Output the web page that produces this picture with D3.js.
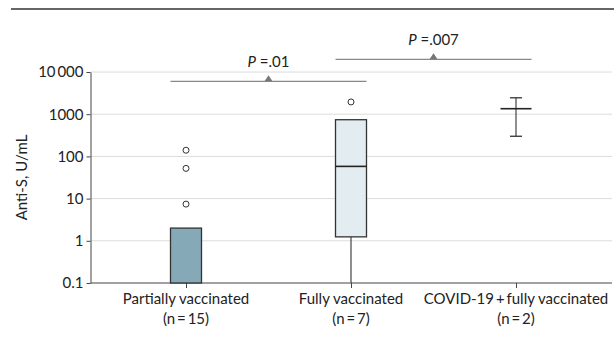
<!DOCTYPE html>
<html>
<head>
<meta charset="utf-8">
<script src="https://cdn.jsdelivr.net/npm/d3@7"></script>
<style>
  body { margin: 0; background: #fff; }
  text { font-family: Lato, "Open Sans", sans-serif; fill: #222; }
</style>
</head>
<body>
<svg id="chart" width="614" height="341"></svg>
<script>
// values (Anti-S, U/mL, log scale)
var groups    = ["Partially vaccinated", "Fully vaccinated", "COVID-19\u2009+\u2009fully vaccinated"];
var nLabels   = ["(n\u2009=\u200915)", "(n\u2009=\u20097)", "(n\u2009=\u20092)"];
var q1        = [0.1, 1.24, 1350];
var medians   = [0.1, 58, 1350];
var q3        = [2, 740, 1350];
var whiskLow  = [0.1, 0.1, 300];
var whiskHigh = [2, 740, 2450];
var outliers  = [[7.4, 52, 140], [1950], []];
var boxFills  = ["#86a9b8", "#e3ecf1", "#fff"];

var tickValues = [0.1, 1, 10, 100, 1000, 10000];
var tickLabels = ["0.1", "1", "10", "100", "1000", "10\u2009000"];

// significance brackets: from group, to group, label
var brackets = [
    { from: 0, to: 1, p: ".01",  y: 6000 },
    { from: 1, to: 2, p: ".007", y: 20000 }
];

var svg = d3.select("#chart");
var plotL = 90.5, plotR = 612, plotT = 72, plotB = 283;
var boxW = 31;
var fs = 15;

var y = d3.scaleLog().domain([0.1, 10000]).range([plotB, plotT]);
var x = d3.scalePoint().domain(groups).range([186, 516]);

// top rule
svg.append("line")
    .attr("x1", 11).attr("x2", 614).attr("y1", 9).attr("y2", 9)
    .attr("stroke", "#333").attr("stroke-width", 1.5);

// gridlines
svg.append("g").selectAll("line")
    .data(tickValues.slice(1))
    .enter().append("line")
    .attr("x1", plotL).attr("x2", plotR)
    .attr("y1", function(d) { return y(d); })
    .attr("y2", function(d) { return y(d); })
    .attr("stroke", "#dcdcdc").attr("stroke-width", 1);

// y axis
var yAxis = svg.append("g")
    .attr("transform", "translate(" + plotL + ",0)")
    .call(d3.axisLeft(y).tickValues(tickValues)
        .tickFormat(function(d, i) { return tickLabels[i]; })
        .tickSize(4).tickSizeOuter(0));
yAxis.select(".domain").attr("stroke", "#444");
yAxis.selectAll(".tick line").attr("stroke", "#444");
yAxis.selectAll(".tick text")
    .attr("font-size", fs).attr("font-family", "Lato, sans-serif")
    .attr("fill", "#222");

// x axis
var xAxis = svg.append("g")
    .attr("transform", "translate(0," + plotB + ")")
    .call(d3.axisBottom(x).tickSize(5).tickSizeOuter(0).tickFormat(""));
xAxis.select(".domain").attr("d", "M" + plotL + ",0H" + plotR).attr("stroke", "#444");
xAxis.selectAll(".tick line").attr("stroke", "#444");

var cats = svg.append("g").selectAll("text")
    .data(groups)
    .enter().append("text")
    .attr("x", function(d) { return x(d); })
    .attr("y", 304)
    .attr("text-anchor", "middle")
    .attr("font-size", fs);
cats.append("tspan").text(function(d) { return d; });
cats.append("tspan")
    .attr("x", function(d) { return x(d); })
    .attr("dy", 20)
    .text(function(d, i) { return nLabels[i]; });

// y label
svg.append("text")
    .attr("transform", "translate(27," + ((plotT + plotB) / 2) + ") rotate(-90)")
    .attr("text-anchor", "middle")
    .attr("font-size", fs)
    .text("Anti-S, U/mL");

// boxes
var g = svg.append("g").selectAll("g")
    .data(groups)
    .enter().append("g")
    .attr("transform", function(d) { return "translate(" + x(d) + ",0)"; });

// whiskers
g.append("line")
    .attr("x1", 0).attr("x2", 0)
    .attr("y1", function(d, i) { return y(whiskLow[i]); })
    .attr("y2", function(d, i) { return y(whiskHigh[i]); })
    .attr("stroke", "#444").attr("stroke-width", 1.2);

// caps only where box is collapsed
g.filter(function(d, i) { return q3[i] === q1[i]; })
    .selectAll("line.cap")
    .data(function(d) { var i = groups.indexOf(d); return [whiskLow[i], whiskHigh[i]]; })
    .enter().append("line")
    .attr("x1", -6).attr("x2", 6)
    .attr("y1", function(v) { return y(v); })
    .attr("y2", function(v) { return y(v); })
    .attr("stroke", "#333").attr("stroke-width", 1.3);

g.filter(function(d, i) { return q3[i] > q1[i]; })
    .append("rect")
    .attr("x", -boxW / 2).attr("width", boxW)
    .attr("y", function(d) { return y(q3[groups.indexOf(d)]); })
    .attr("height", function(d) { var i = groups.indexOf(d); return y(q1[i]) - y(q3[i]); })
    .attr("fill", function(d) { return boxFills[groups.indexOf(d)]; })
    .attr("stroke", "#333").attr("stroke-width", 1.3);

g.filter(function(d, i) { return medians[i] > 0.1; })
    .append("line")
    .attr("x1", -boxW / 2).attr("x2", boxW / 2)
    .attr("y1", function(d) { return y(medians[groups.indexOf(d)]); })
    .attr("y2", function(d) { return y(medians[groups.indexOf(d)]); })
    .attr("stroke", "#222").attr("stroke-width", 1.6);

g.selectAll("circle")
    .data(function(d) { return outliers[groups.indexOf(d)]; })
    .enter().append("circle")
    .attr("cx", 0)
    .attr("cy", function(v) { return y(v); })
    .attr("r", 3)
    .attr("fill", "#fff").attr("stroke", "#333").attr("stroke-width", 1);

// significance brackets
var b = svg.append("g").selectAll("g")
    .data(brackets)
    .enter().append("g");

b.append("line")
    .attr("x1", function(d) { return x(groups[d.from]) - boxW / 2; })
    .attr("x2", function(d) { return x(groups[d.to]) + boxW / 2; })
    .attr("y1", function(d) { return y(d.y); })
    .attr("y2", function(d) { return y(d.y); })
    .attr("stroke", "#888").attr("stroke-width", 1.2);

b.append("path")
    .attr("d", function(d) {
        var cx = (x(groups[d.from]) + x(groups[d.to])) / 2;
        var cy = y(d.y);
        return "M" + (cx - 4) + "," + cy + "L" + (cx + 4) + "," + cy + "L" + cx + "," + (cy - 6) + "Z";
    })
    .attr("fill", "#777");

var pt = b.append("text")
    .attr("x", function(d) { return (x(groups[d.from]) + x(groups[d.to])) / 2; })
    .attr("y", function(d) { return y(d.y) - 14; })
    .attr("text-anchor", "middle")
    .attr("font-size", fs);
pt.append("tspan").attr("font-style", "italic").text("P");
pt.append("tspan").text(function(d) { return " =" + d.p; });
</script>
</body>
</html>
